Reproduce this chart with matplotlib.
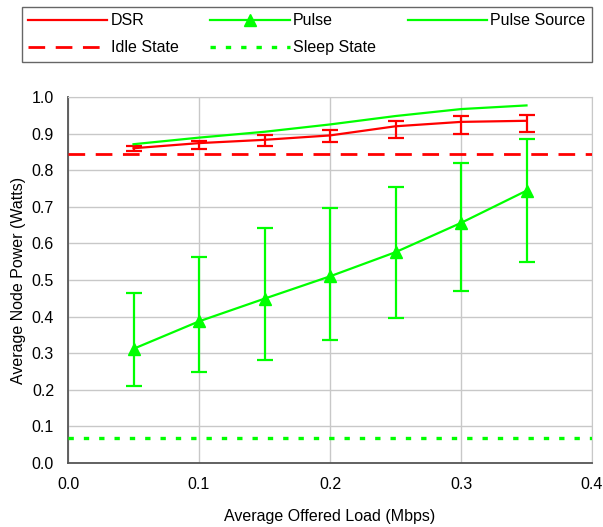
import numpy as np
import matplotlib
matplotlib.use('Agg')
import matplotlib.pyplot as plt
from matplotlib.ticker import FormatStrFormatter

plt.rcParams['font.family'] = ['Liberation Sans', 'DejaVu Sans']
plt.rcParams['font.size'] = 11.5

# data
load = [0.05, 0.10, 0.15, 0.20, 0.25, 0.30, 0.35]

dsr = [0.860, 0.874, 0.883, 0.895, 0.920, 0.932, 0.935]
dsr_hi = [0.866, 0.881, 0.895, 0.910, 0.934, 0.948, 0.951]
dsr_lo = [0.853, 0.859, 0.866, 0.876, 0.887, 0.898, 0.905]

pulse = [0.312, 0.387, 0.449, 0.510, 0.576, 0.656, 0.744]
pulse_hi = [0.465, 0.564, 0.641, 0.698, 0.755, 0.821, 0.886]
pulse_lo = [0.210, 0.250, 0.282, 0.337, 0.396, 0.469, 0.548]

pulse_source = [0.871, 0.889, 0.905, 0.925, 0.948, 0.967, 0.977]

idle_power = 0.845
sleep_power = 0.067

red = '#ff0000'
green = '#00ff00'

fig = plt.figure(figsize=(6.03, 5.27), dpi=100)
ax = fig.add_axes([68 / 603, 64 / 527, 524 / 603, 366 / 527])

# error bars
dsr_err = [np.array(dsr) - np.array(dsr_lo), np.array(dsr_hi) - np.array(dsr)]
pulse_err = [np.array(pulse) - np.array(pulse_lo), np.array(pulse_hi) - np.array(pulse)]

ax.errorbar(load, dsr, yerr=dsr_err, fmt='none', ecolor=red, elinewidth=1.6,
            capsize=5.5, capthick=1.6, zorder=3)
ax.errorbar(load, pulse, yerr=pulse_err, fmt='none', ecolor=green, elinewidth=1.6,
            capsize=5.5, capthick=1.6, zorder=3)

l_dsr, = ax.plot(load, dsr, color=red, lw=1.6, zorder=4, label='DSR')
l_pulse, = ax.plot(load, pulse, color=green, lw=1.6, marker='^', markersize=9,
                   zorder=4, label='Pulse')
l_src, = ax.plot(load, pulse_source, color=green, lw=1.6, zorder=4, label='Pulse Source')
l_idle = ax.axhline(idle_power, color=red, lw=2.0, linestyle=(0, (6.0, 3.8)),
                    zorder=4, label='Idle State')
l_sleep = ax.axhline(sleep_power, color=green, lw=2.4, linestyle=(0, (1.6, 3.0)),
                     zorder=4, label='Sleep State')

ax.set_xlim(0, 0.4)
ax.set_ylim(0, 1.0)
ax.set_xticks(np.arange(0, 0.41, 0.1))
ax.set_yticks(np.arange(0, 1.01, 0.1))
ax.xaxis.set_major_formatter(FormatStrFormatter('%.1f'))
ax.yaxis.set_major_formatter(FormatStrFormatter('%.1f'))
ax.tick_params(axis='x', length=0, pad=10)
ax.tick_params(axis='y', length=0, pad=10)
ax.grid(True, color='#c8c8c8', lw=1)
ax.set_axisbelow(True)
for side in ['top', 'right']:
    ax.spines[side].set_color('#c8c8c8')
for side in ['left', 'bottom']:
    ax.spines[side].set_color('#555555')
    ax.spines[side].set_linewidth(1.3)

ax.set_xlabel('Average Offered Load (Mbps)', labelpad=12)
ax.set_ylabel('Average Node Power (Watts)', labelpad=4)

# legend: columns fill top-down, so order the handles to get the reference rows
handles = [l_dsr, l_idle, l_pulse, l_sleep, l_src]
leg = fig.legend(handles, [h.get_label() for h in handles], ncol=3,
                 loc='upper left', bbox_to_anchor=(22 / 603, 1 - 7 / 527),
                 borderaxespad=0, frameon=True, fancybox=False, handlelength=4.95,
                 handletextpad=0.2, borderpad=0.4, labelspacing=0.75,
                 columnspacing=2.0)
leg.get_frame().set_edgecolor('#404040')
leg.get_frame().set_linewidth(1.0)

fig.savefig('out.png', dpi=100)
